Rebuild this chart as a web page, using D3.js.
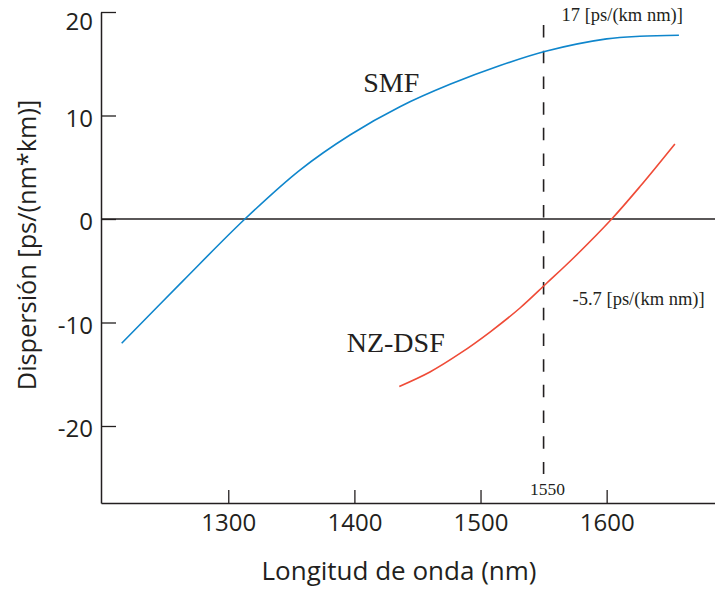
<!DOCTYPE html>
<html>
<head>
<meta charset="utf-8">
<script src="https://cdn.jsdelivr.net/npm/d3@7/dist/d3.min.js"></script>
<style>
  html, body { margin: 0; padding: 0; background: #fff; }
  svg { display: block; }
</style>
</head>
<body>
<svg id="chart" width="715" height="590"></svg>
<script>
// ---- data ----
const smfWavelength = [1215.5, 1264.1, 1313.2, 1356.8, 1396.5, 1436.1, 1475.8, 1515.5, 1552.4, 1600.0, 1626.4, 1657.3];
const smfDispersion = [-12.01, -5.98, 0.0, 4.73, 8.12, 10.85, 13.01, 14.83, 16.23, 17.40, 17.66, 17.75];
const nzWavelength = [1435.6, 1459.9, 1483.7, 1507.5, 1531.3, 1552.4, 1574.9, 1604.0, 1626.4, 1654.1];
const nzDispersion = [-16.18, -14.78, -12.99, -10.92, -8.60, -6.21, -3.62, 0.0, 3.13, 7.25];
const xTicks = [1300, 1400, 1500, 1600];
const yTicks = [20, 10, 0, -10, -20];
const markerWavelength = 1550;
const markerLabel = "1550";
const smfLabel = "SMF";
const nzLabel = "NZ-DSF";
const smfValueLabel = "17 [ps/(km nm)]";
const nzValueLabel = "-5.7 [ps/(km nm)]";
const xTitle = "Longitud de onda (nm)";
const yTitle = "Dispersión [ps/(nm*km)]";

// ---- layout ----
const svg = d3.select("#chart");
const ink = "#231f20";
const sans = "'Open Sans', 'Noto Sans', sans-serif";
const serif = "'Liberation Serif', 'Times New Roman', serif";

const x = d3.scaleLinear().domain([1199.1, 1685.9]).range([101, 715]);
const y = d3.scaleLinear().domain([-27.44, 20]).range([503, 12]);

// axes
const yAxis = d3.axisLeft(y).tickValues(yTicks).tickSize(-15).tickPadding(8).tickSizeOuter(0)
  .tickFormat(d => String(d));
const gy = svg.append("g").attr("transform", "translate(101,0)").call(yAxis);
gy.select(".domain").attr("stroke", ink).attr("stroke-width", 1.5);
gy.selectAll(".tick line").attr("stroke", ink).attr("stroke-width", 1.3);
gy.selectAll(".tick text")
  .attr("fill", ink).attr("font-family", sans).attr("font-size", 24)
  .attr("dy", d => d === 20 ? "0.72em" : "0.45em");

const xAxis = d3.axisBottom(x).tickValues(xTicks).tickSize(-13).tickPadding(10.5).tickSizeOuter(0)
  .tickFormat(d => String(d));
const gx = svg.append("g").attr("transform", "translate(0,503)").call(xAxis);
gx.select(".domain").attr("stroke", ink).attr("stroke-width", 1.5);
gx.selectAll(".tick line").attr("stroke", ink).attr("stroke-width", 1.3);
gx.selectAll(".tick text")
  .attr("fill", ink).attr("font-family", sans).attr("font-size", 24);
svg.selectAll(".tick text").attr("font-family", sans).attr("font-size", 24);

// zero line
svg.append("line")
  .attr("x1", x.range()[0]).attr("x2", x.range()[1])
  .attr("y1", y(0)).attr("y2", y(0))
  .attr("stroke", ink).attr("stroke-width", 1.5);

// dashed marker line
svg.append("line")
  .attr("x1", x(markerWavelength)).attr("x2", x(markerWavelength))
  .attr("y1", y(18.74)).attr("y2", y(-24.64))
  .attr("stroke", ink).attr("stroke-width", 1.6)
  .attr("stroke-dasharray", "12.5,13.2");

// curves
const line = d3.line().x(d => x(d[0])).y(d => y(d[1])).curve(d3.curveCatmullRom.alpha(0.5));
svg.append("path")
  .datum(smfWavelength.map((w, i) => [w, smfDispersion[i]]))
  .attr("d", line).attr("fill", "none").attr("stroke", "#0f86cc").attr("stroke-width", 1.6);
svg.append("path")
  .datum(nzWavelength.map((w, i) => [w, nzDispersion[i]]))
  .attr("d", line).attr("fill", "none").attr("stroke", "#ef4b37").attr("stroke-width", 1.6);

// annotations
svg.append("text").attr("x", x(markerWavelength) + 18).attr("y", y(19.13))
  .attr("font-family", serif).attr("font-size", 18.5).attr("fill", ink).text(smfValueLabel);
svg.append("text").attr("x", x(markerWavelength) + 29).attr("y", y(-8.31))
  .attr("font-family", serif).attr("font-size", 18.5).attr("fill", ink).text(nzValueLabel);
svg.append("text").attr("x", x(markerWavelength) + 4).attr("y", y(-26.67))
  .attr("text-anchor", "middle")
  .attr("font-family", serif).attr("font-size", 17.5).attr("fill", ink).text(markerLabel);
svg.append("text").attr("x", x(1407)).attr("y", y(12.3))
  .attr("font-family", serif).attr("font-size", 28).attr("fill", ink).text(smfLabel);
svg.append("text").attr("x", x(1393.9)).attr("y", y(-12.82))
  .attr("font-family", serif).attr("font-size", 28).attr("fill", ink).text(nzLabel);

// axis titles
svg.append("text").attr("x", 399).attr("y", 580).attr("text-anchor", "middle")
  .attr("font-family", sans).attr("font-size", 26).attr("fill", ink).text(xTitle);
svg.append("text").attr("transform", "translate(36,245) rotate(-90)").attr("text-anchor", "middle")
  .attr("font-family", sans).attr("font-size", 25.3).attr("fill", ink).text(yTitle);
</script>
</body>
</html>
